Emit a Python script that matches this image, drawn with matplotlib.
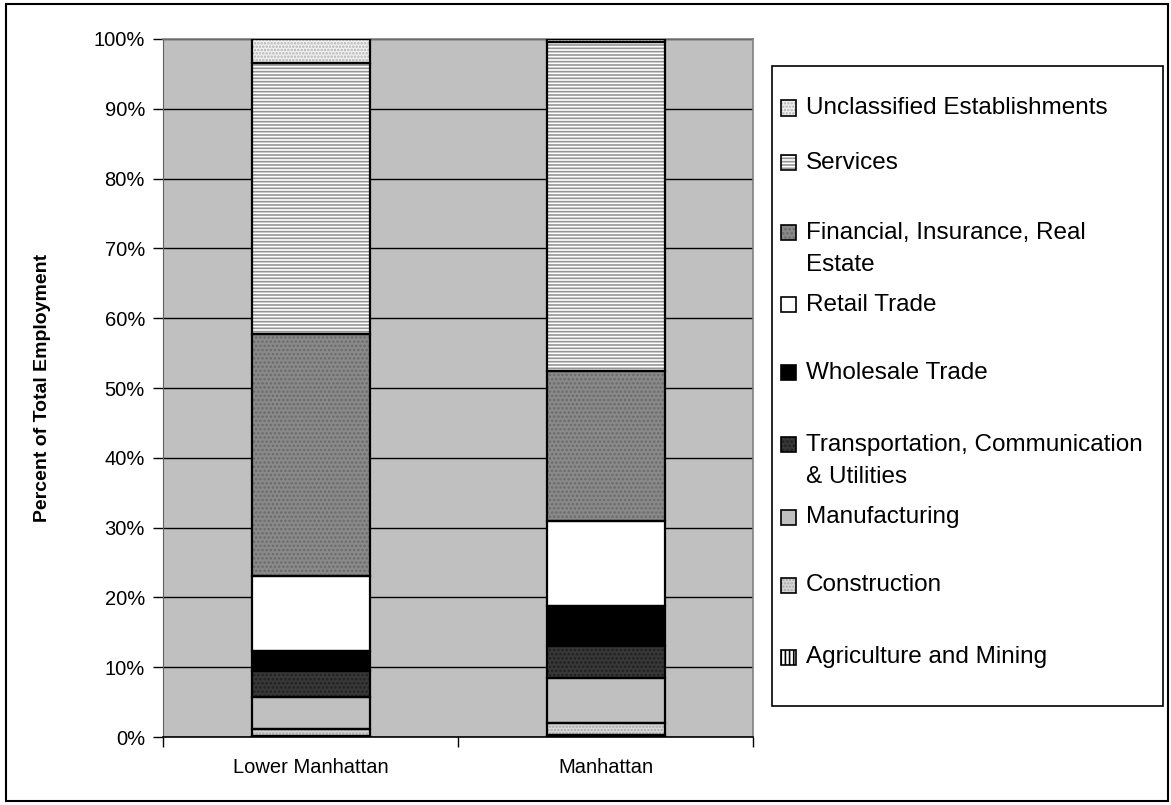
import matplotlib
matplotlib.use("Agg")
import matplotlib.pyplot as plt
import matplotlib.patches as mpatches
import numpy as np

plt.rcParams['font.family'] = ['Liberation Sans', 'DejaVu Sans']
plt.rcParams['hatch.linewidth'] = 1.2

categories = ['Lower Manhattan', 'Manhattan']
sectors = ['Agriculture and Mining', 'Construction', 'Manufacturing',
           'Transportation, Communication\n& Utilities', 'Wholesale Trade',
           'Retail Trade', 'Financial, Insurance, Real\nEstate', 'Services',
           'Unclassified Establishments']
agriculture = [0.1, 0.3]
construction = [1.1, 1.7]
manufacturing = [4.5, 6.4]
transportation = [3.8, 4.6]
wholesale = [2.8, 5.7]
retail = [10.7, 12.3]
financial = [34.8, 21.4]
services = [38.8, 47.2]
unclassified = [3.4, 0.4]
series = [agriculture, construction, manufacturing, transportation, wholesale,
          retail, financial, services, unclassified]
yticks = list(range(0, 101, 10))

# (facecolor, hatch, hatchcolor)
styles = [
    ('white', '||||', 'black'),
    ('#d8d8d8', '.....', '#a8a8a8'),
    ('#c0c0c0', None, None),
    ('#383838', '....', '#202020'),
    ('black', None, None),
    ('white', None, None),
    ('#8a8a8a', '....', '#6a6a6a'),
    ('white', '-----', '#959595'),
    ('#f2f2f2', '.....', '#b0b0b0'),
]

W, H = 1171, 805
fig = plt.figure(figsize=(W / 100, H / 100), dpi=100)
ax = fig.add_axes([163 / W, 1 - 737 / H, (753 - 163) / W, (737 - 39) / H])
ax.set_facecolor('#c0c0c0')

x = np.arange(len(categories))
bottom = np.zeros(len(categories))
for vals, (fc, hatch, hc) in zip(series, styles):
    vals = np.array(vals)
    ax.bar(x, vals, width=0.4, bottom=bottom, color=fc, hatch=hatch,
           edgecolor=hc if hatch else fc, linewidth=0, zorder=3)
    ax.bar(x, vals, width=0.4, bottom=bottom, fill=False,
           edgecolor='black', linewidth=1.6, zorder=4)
    bottom += vals

ax.set_xlim(-0.5, 1.5)
ax.set_ylim(0, 100)
ax.set_yticks(yticks)
ax.set_yticklabels([f'{t}%' for t in yticks], fontsize=14.5)
ax.yaxis.grid(True, color='black', linewidth=1.0, zorder=1)
ax.set_axisbelow(True)
ax.set_xticks([-0.5, 0.5, 1.5])
ax.set_xticklabels([])
ax.set_xticks(x, minor=True)
ax.set_xticklabels(categories, minor=True, fontsize=14.5)
ax.tick_params(axis='x', which='minor', length=0, pad=15)
ax.tick_params(axis='x', which='major', length=7, width=1, color='black')
ax.tick_params(axis='y', length=7, width=1, color='black', pad=6)
for side in ['top', 'right']:
    ax.spines[side].set_color('#808080')
    ax.spines[side].set_linewidth(1.2)
ax.spines['left'].set_color('#606060')
ax.spines['bottom'].set_color('black')
ax.spines['bottom'].set_linewidth(1.2)

fig.text(43 / W, 1 - 388 / H, 'Percent of Total Employment', rotation=90,
         ha='center', va='center', fontsize=14, fontweight='bold')

# figure border
fig.patches.append(mpatches.Rectangle((6 / W, 1 - 801 / H), (1168 - 6) / W, (801 - 4) / H,
                                      transform=fig.transFigure, fill=False,
                                      edgecolor='black', linewidth=1.5))

# legend (manual, Excel style)
leg_left, leg_right, leg_top, leg_bottom = 772, 1163, 66, 706
fig.patches.append(mpatches.Rectangle((leg_left / W, 1 - leg_bottom / H),
                                      (leg_right - leg_left) / W, (leg_bottom - leg_top) / H,
                                      transform=fig.transFigure, facecolor='white',
                                      edgecolor='black', linewidth=1.2))
entry_y = [657, 585, 517, 445, 373, 305, 233, 163, 108]
sq = 15
for label, (fc, hatch, hc), yy in zip(sectors, styles, entry_y):
    fig.patches.append(mpatches.Rectangle((781 / W, 1 - (yy + sq / 2) / H), sq / W, sq / H,
                                          transform=fig.transFigure, facecolor=fc,
                                          hatch=hatch, edgecolor=hc if hatch else fc,
                                          linewidth=0, zorder=5))
    fig.patches.append(mpatches.Rectangle((781 / W, 1 - (yy + sq / 2) / H), sq / W, sq / H,
                                          transform=fig.transFigure, fill=False,
                                          edgecolor='black', linewidth=1.2, zorder=6))
    for i, ln in enumerate(label.split('\n')):
        fig.text(806 / W, 1 - (yy + 32 * i) / H, ln, ha='left', va='center', fontsize=17.5)

fig.savefig('out.png', dpi=100, facecolor='white')
